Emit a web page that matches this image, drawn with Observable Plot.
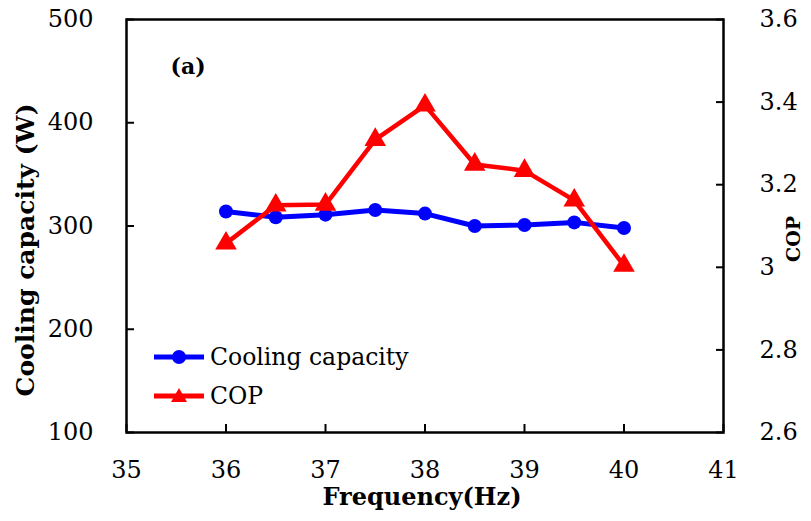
<!DOCTYPE html>
<html>
<head>
<meta charset="utf-8">
<script src="https://cdn.jsdelivr.net/npm/d3@7"></script>
<script src="https://cdn.jsdelivr.net/npm/@observablehq/plot@0.6"></script>
<style>
  html, body { margin: 0; padding: 0; background: #fff; }
  #wrap { position: relative; width: 811px; height: 521px; font-family: "DejaVu Serif", serif; }
  #legend { position: absolute; left: 154px; top: 337px; font-size: 23.5px; color: #000; }
  #legend .row { display: flex; align-items: center; height: 39px; }
  #legend svg { margin-right: 6px; }
</style>
</head>
<body>
<div id="wrap">
  <div id="chart"></div>
  <div id="legend"></div>
</div>
<script>
// Data
const frequency = [36, 36.5, 37, 37.5, 38, 38.5, 39, 39.5, 40];
const coolingCapacity = [314, 308.5, 311, 315.5, 312, 300, 301, 303.5, 298];
const cop = [3.058, 3.150, 3.152, 3.309, 3.392, 3.249, 3.234, 3.162, 3.004];
const xTicks = [35, 36, 37, 38, 39, 40, 41];
const leftTicks = [100, 200, 300, 400, 500];
const copTicks = [2.6, 2.8, 3, 3.2, 3.4, 3.6];
const seriesNames = ["Cooling capacity", "COP"];
const seriesColors = ["#0000ff", "#ff0000"];

// map COP onto the left (W) scale: 2.6 -> 100, 3.6 -> 500
const copToLeft = c => 100 + (c - 2.6) * 400;
const leftToCop = v => (v - 100) / 400 + 2.6;

const capData = frequency.map((f, i) => ({f, v: coolingCapacity[i]}));
const copData = frequency.map((f, i) => ({f, v: copToLeft(cop[i])}));

const chart = Plot.plot({
  width: 811,
  height: 521,
  marginLeft: 126,
  marginRight: 88,
  marginTop: 19,
  marginBottom: 89,
  style: {fontFamily: "DejaVu Serif, serif", fontSize: "24px", color: "#000", background: "#fff"},
  x: {domain: [35, 41]},
  y: {domain: [100, 500]},
  marks: [
    Plot.axisX(xTicks, {anchor: "bottom", tickSize: -8, tickPadding: 36, strokeWidth: 2, label: null, fontSize: 24}),
    Plot.axisY(leftTicks, {anchor: "left", tickSize: -8, tickPadding: 41, strokeWidth: 2, label: null, fontSize: 24}),
    Plot.axisY(copTicks.map(copToLeft), {anchor: "right", tickSize: -8, tickPadding: 44, strokeWidth: 2, label: null, fontSize: 24,
      tickFormat: d => String(+leftToCop(d).toFixed(1))}),
    Plot.line(capData, {x: "f", y: "v", stroke: seriesColors[0], strokeWidth: 5}),
    Plot.dot(capData, {x: "f", y: "v", symbol: "circle", r: 7, fill: seriesColors[0]}),
    Plot.line(copData, {x: "f", y: "v", stroke: seriesColors[1], strokeWidth: 4.5}),
    Plot.dot(copData, {x: "f", y: "v", symbol: "triangle", r: 8, fill: seriesColors[1]}),
    Plot.frame({stroke: "#000", strokeWidth: 2.5}),
    Plot.text(["(a)"], {frameAnchor: "top-left", dx: 44, dy: 39, fontWeight: "bold", fontSize: 22, textAnchor: "start"}),
    Plot.text(["Cooling capacity (W)"], {frameAnchor: "left", rotate: -90, textAnchor: "middle", dx: -101, dy: 24, fontWeight: "bold", fontSize: 25}),
    Plot.text(["COP"], {frameAnchor: "right", rotate: -90, textAnchor: "middle", dx: 70, dy: 13, fontWeight: "bold", fontSize: 19}),
    Plot.text(["Frequency(Hz)"], {frameAnchor: "bottom", textAnchor: "middle", dx: -3, dy: 72, fontWeight: "bold", fontSize: 24})
  ]
});
document.getElementById("chart").appendChild(chart);

// Legend
const legend = document.getElementById("legend");
seriesNames.forEach((name, i) => {
  const row = document.createElement("div");
  row.className = "row";
  const sym = i === 0
    ? `<circle cx="25" cy="10" r="7" fill="${seriesColors[i]}"/>`
    : `<path d="M25,2 L33,16 L17,16 Z" fill="${seriesColors[i]}"/>`;
  row.innerHTML = `<svg width="50" height="20"><line x1="0" x2="50" y1="10" y2="10" stroke="${seriesColors[i]}" stroke-width="5"/>${sym}</svg><span>${name}</span>`;
  legend.appendChild(row);
});
</script>
</body>
</html>
